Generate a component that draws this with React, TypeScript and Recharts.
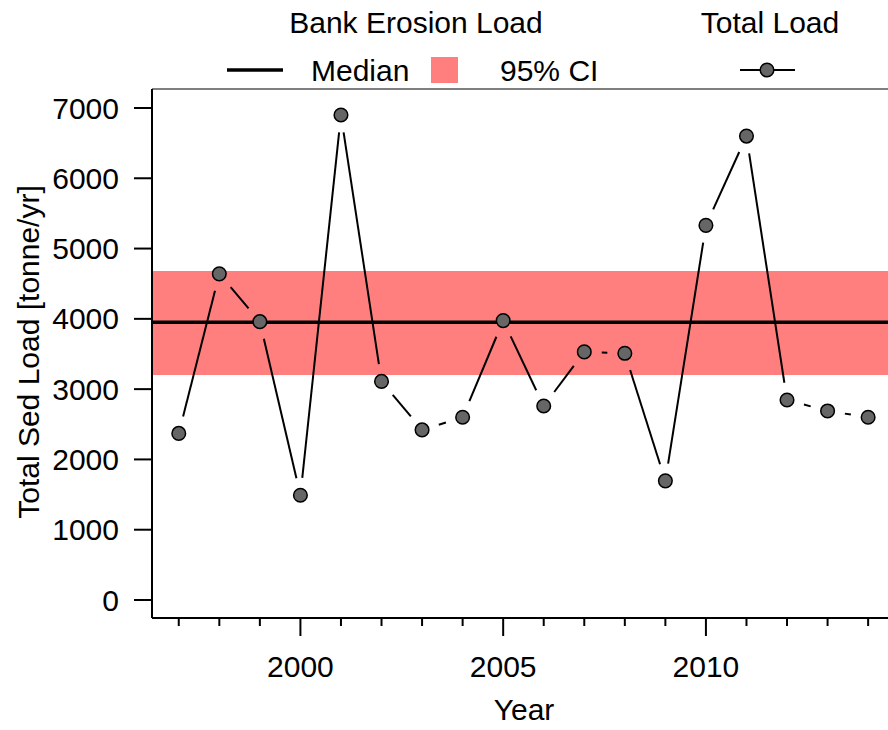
import { ComposedChart, Line, XAxis, YAxis, ReferenceArea, ReferenceLine, Legend } from 'recharts'

// annual total sediment load, tonne/yr
const years = [1997, 1998, 1999, 2000, 2001, 2002, 2003, 2004, 2005, 2006, 2007, 2008, 2009, 2010, 2011, 2012, 2013, 2014]
const totalLoad = [2370, 4640, 3960, 1490, 6900, 3110, 2420, 2600, 3975, 2760, 3530, 3510, 1695, 5330, 6600, 2845, 2690, 2600]

// bank erosion load summary
const bankMedian = 3950
const bankCiLow = 3200
const bankCiHigh = 4680

const yTicks = [0, 1000, 2000, 3000, 4000, 5000, 6000, 7000]
const labelledYears = [2000, 2005, 2010]
const xDomain = [1996.34, 2014.49]
const yDomain = [-256, 7270]

const data = years.map((year, i) => ({ year, load: totalLoad[i] }))

const FONT = '"Liberation Sans", Arial, Helvetica, sans-serif'
const FS = 30
const POINT_FILL = '#666666'
const CI_FILL = '#FF7F7F'
const GAP = 17.5

// point plus the connecting segment to the next point, leaving a gap around each symbol
function GappedPoint(props: any) {
  const { cx, cy, index, points } = props
  const next = points && points[index + 1]
  let seg = null
  if (next) {
    const dx = next.x - cx
    const dy = next.y - cy
    const len = Math.hypot(dx, dy)
    if (len > 2 * GAP) {
      const ux = dx / len
      const uy = dy / len
      seg = (
        <line
          x1={cx + ux * GAP}
          y1={cy + uy * GAP}
          x2={next.x - ux * GAP}
          y2={next.y - uy * GAP}
          stroke="#000"
          strokeWidth={2}
        />
      )
    }
  }
  return (
    <g key={`pt-${index}`}>
      {seg}
      <circle cx={cx} cy={cy} r={6.8} fill={POINT_FILL} stroke="#000" strokeWidth={1.5} />
    </g>
  )
}

function YearTick({ x, y, payload }: any) {
  const major = labelledYears.includes(payload.value)
  return (
    <g>
      <line x1={x} x2={x} y1={y} y2={y + (major ? 18 : 8)} stroke="#000" strokeWidth={2} />
      {major && (
        <text x={x} y={y + 59} textAnchor="middle" fontSize={FS} fill="#000" fontFamily={FONT}>
          {payload.value}
        </text>
      )}
    </g>
  )
}

function LegendBlock() {
  return (
    <svg width={888} height={88} style={{ display: 'block', fontFamily: FONT }}>
      <text x={416} y={33} textAnchor="middle" fontSize={FS} fill="#000">Bank Erosion Load</text>
      <text x={770} y={33} textAnchor="middle" fontSize={FS} fill="#000">Total Load</text>
      <line x1={227} x2={283} y1={70} y2={70} stroke="#000" strokeWidth={3.5} />
      <text x={311} y={81} fontSize={FS} fill="#000">Median</text>
      <rect x={431} y={57} width={27} height={26} fill={CI_FILL} />
      <text x={500} y={81} fontSize={FS} fill="#000">95% CI</text>
      <line x1={740} x2={795} y1={70} y2={70} stroke="#000" strokeWidth={2} />
      <circle cx={767} cy={70} r={6.8} fill={POINT_FILL} stroke="#000" strokeWidth={1.5} />
    </svg>
  )
}

export default function App() {
  return (
    <div style={{ position: 'absolute', left: 0, top: 0, width: 888, height: 730, background: '#fff', fontFamily: FONT }}>
      <ComposedChart
        width={888}
        height={730}
        data={data}
        margin={{ top: 89, right: 0, bottom: 82, left: 92 }}
        style={{ fontFamily: FONT }}
      >
        <XAxis
          dataKey="year"
          type="number"
          domain={xDomain}
          ticks={years}
          interval={0}
          height={30}
          tickSize={0}
          tickMargin={0}
          tickLine={false}
          axisLine={{ stroke: '#000', strokeWidth: 2 }}
          tick={<YearTick />}
          label={{
            value: 'Year',
            content: () => (
              <text x={524} y={720} textAnchor="middle" fontSize={FS} fill="#000" fontFamily={FONT}>Year</text>
            ),
          }}
        />
        <YAxis
          type="number"
          domain={yDomain}
          ticks={yTicks}
          interval={0}
          width={60}
          tickSize={18}
          tickMargin={15}
          tick={{ fill: '#000', fontSize: FS, fontFamily: FONT }}
          tickLine={{ stroke: '#000', strokeWidth: 2 }}
          axisLine={{ stroke: '#000', strokeWidth: 2 }}
          label={{
            value: 'Total Sed Load [tonne/yr]',
            content: () => (
              <text
                x={38.5}
                y={352}
                transform="rotate(-90, 38.5, 352)"
                textAnchor="middle"
                fontSize={FS}
                fill="#000"
                fontFamily={FONT}
              >
                Total Sed Load [tonne/yr]
              </text>
            ),
          }}
        />
        <ReferenceArea y1={bankCiLow} y2={bankCiHigh} fill={CI_FILL} fillOpacity={1} stroke="none" />
        <ReferenceLine y={bankMedian} stroke="#000" strokeWidth={3.5} />
        <ReferenceLine y={yDomain[1]} stroke="#555" strokeWidth={1.5} />
        <Line
          dataKey="load"
          stroke="none"
          strokeWidth={0}
          dot={<GappedPoint />}
          activeDot={false}
          isAnimationActive={false}
        />
        <Legend
          layout="horizontal"
          verticalAlign="middle"
          align="center"
          wrapperStyle={{ top: 0, left: 0, width: 888, height: 88 }}
          content={() => <LegendBlock />}
        />
      </ComposedChart>
    </div>
  )
}
